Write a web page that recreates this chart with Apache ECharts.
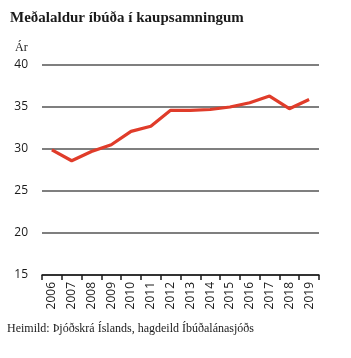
<!DOCTYPE html>
<html><head><meta charset="utf-8">
<script src="https://cdn.jsdelivr.net/npm/echarts@6/dist/echarts.min.js"></script>
<style>html,body{margin:0;padding:0;background:#fff}#c{width:351px;height:358px}</style>
</head><body><div id="c"></div>
<script>
const years = ['2006','2007','2008','2009','2010','2011','2012','2013','2014','2015','2016','2017','2018','2019'];
const ages = [29.9, 28.6, 29.7, 30.5, 32.1, 32.7, 34.6, 34.6, 34.7, 35.0, 35.5, 36.3, 34.8, 35.9];
const titleText = 'Meðalaldur íbúða í kaupsamningum';
const unitText = 'Ár';
const sourceText = 'Heimild: Þjóðskrá Íslands, hagdeild Íbúðalánasjóðs';

const chart = echarts.init(document.getElementById('c'), null, {renderer:'canvas'});
chart.setOption({
  animation: false,
  title: [
    {text: titleText, left: 5, top: 6, textStyle:{fontFamily:'Liberation Serif', fontWeight:'bold', fontSize:15, color:'#1a1a1a'}},
    {text: unitText, left: 10, top: 37, textStyle:{fontFamily:'Liberation Serif', fontWeight:'normal', fontSize:12, color:'#1a1a1a'}},
    {text: sourceText, left: 2, top: 318, textStyle:{fontFamily:'Liberation Serif', fontWeight:'normal', fontSize:12, color:'#1a1a1a'}}
  ],
  grid: {left: 42, right: 32, top: 65, bottom: 83, containLabel: false},
  xAxis: {
    type: 'category', data: years, boundaryGap: true,
    axisLine: {show: true, lineStyle:{color:'#1a1a1a', width:1.5}},
    axisTick: {show: true, length: 5, lineStyle:{color:'#1a1a1a', width:1.5}},
    axisLabel: {rotate: 90, interval: 0, margin: 7, fontFamily:'Open Sans', fontSize:12, color:'#1a1a1a'}
  },
  yAxis: {
    type: 'value', min: 15, max: 40, interval: 5,
    axisLine: {show:false}, axisTick:{show:false},
    splitLine: {show:true, lineStyle:{color:'#555', width:1.5}},
    axisLabel: {margin: 14, fontFamily:'Open Sans', fontSize:12, color:'#1a1a1a'}
  },
  series: [{
    type:'line', data: ages, symbol:'none',
    lineStyle:{color:'#e03c2a', width:3.2}
  }]
});
</script></body></html>
